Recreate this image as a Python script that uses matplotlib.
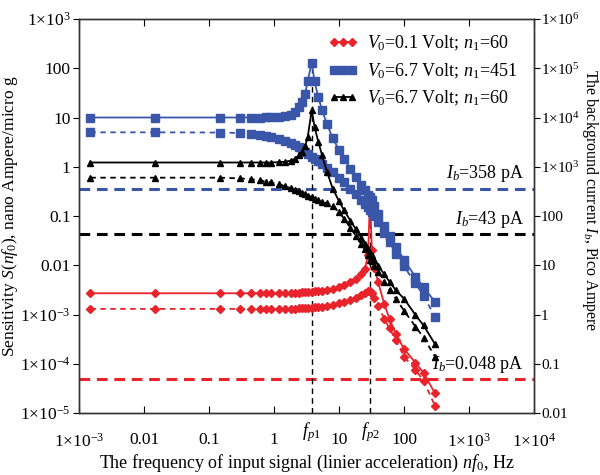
import numpy as np
import matplotlib
matplotlib.use("Agg")
import matplotlib.pyplot as plt
from matplotlib.ticker import FixedLocator, NullLocator, FixedFormatter
from matplotlib.transforms import blended_transform_factory

plt.rcParams['font.family'] = 'Liberation Serif'
plt.rcParams['mathtext.fontset'] = 'custom'
plt.rcParams['mathtext.rm'] = 'Liberation Serif'
plt.rcParams['mathtext.it'] = 'Liberation Serif:italic'

# frequency grid nf0, Hz
freq = [0.0015, 0.015, 0.15, 0.3, 0.45, 0.6, 0.75, 0.9, 1.2, 1.5,
        1.8, 2.1, 2.4, 2.7, 3.0, 3.3, 3.8, 4.2, 4.8, 5.5,
        6.5, 8, 10, 12, 15, 18, 22, 25, 28, 30,
        32, 35, 40, 50, 60, 75, 100, 150, 200, 300]

# sensitivity, nano Ampere / micro g
red_solid = [2.7e-3, 2.7e-3, 2.7e-3, 2.7e-3, 2.7e-3, 2.7e-3, 2.7e-3, 2.7e-3, 2.7e-3, 2.7e-3,
             2.72e-3, 2.75e-3, 2.78e-3, 2.8e-3, 2.82e-3, 2.85e-3, 2.9e-3, 2.95e-3, 3.0e-3, 3.05e-3,
             3.15e-3, 3.3e-3, 3.6e-3, 3.9e-3, 4.5e-3, 5.3e-3, 6.5e-3, 8.5e-3, 0.016, 0.25,
             0.02, 0.009, 0.0045, 0.0016, 8e-4, 4e-4, 2e-4, 1.05e-4, 6.5e-5, 2.5e-5]
red_dash = [1.3e-3, 1.3e-3, 1.3e-3, 1.3e-3, 1.3e-3, 1.3e-3, 1.3e-3, 1.3e-3, 1.3e-3, 1.3e-3,
            1.31e-3, 1.32e-3, 1.33e-3, 1.34e-3, 1.35e-3, 1.36e-3, 1.38e-3, 1.4e-3, 1.42e-3, 1.45e-3,
            1.5e-3, 1.58e-3, 1.7e-3, 1.8e-3, 2.0e-3, 2.2e-3, 2.5e-3, 2.75e-3, 2.95e-3, 3.0e-3,
            2.7e-3, 2.2e-3, 1.5e-3, 8e-4, 5.2e-4, 3e-4, 1.4e-4, 7.5e-5, 4.5e-5, 1.4e-5]
blue_solid = [10, 10, 10, 10, 10, 10, 10.1, 10.2, 10.4, 10.8,
              11.5, 13, 16, 21, 30, 55, 130, 55, 26, 14,
              7.5, 3.8, 2.2, 1.45, 0.9, 0.62, 0.42, 0.33, 0.27, 0.24,
              0.21, 0.16, 0.11, 0.062, 0.04, 0.024, 0.013, 0.0058, 0.0036, 0.0018]
blue_dash = [5, 5, 4.95, 4.85, 4.7, 4.5, 4.3, 4.1, 3.6, 3.3,
             3.0, 2.75, 2.5, 2.25, 2.0, 1.85, 1.6, 1.45, 1.28, 1.12,
             0.95, 0.78, 0.6, 0.48, 0.36, 0.28, 0.21, 0.175, 0.15, 0.135,
             0.12, 0.1, 0.075, 0.045, 0.03, 0.017, 0.0095, 0.0043, 0.0024, 0.0009]
black_solid = [1.22, 1.22, 1.22, 1.22, 1.22, 1.22, 1.22, 1.22, 1.24, 1.27,
               1.33, 1.45, 1.7, 2.0, 2.6, 4.0, 14, 6.5, 3.2, 1.7,
               0.8, 0.36, 0.2, 0.13, 0.08, 0.055, 0.036, 0.027, 0.021, 0.018,
               0.016, 0.013, 0.0098, 0.0065, 0.0046, 0.0031, 0.0021, 0.00098, 0.0006, 0.00025]
black_dash = [0.6, 0.6, 0.6, 0.58, 0.56, 0.53, 0.5, 0.48, 0.44, 0.4,
              0.37, 0.34, 0.32, 0.3, 0.28, 0.26, 0.24, 0.225, 0.21, 0.195,
              0.18, 0.16, 0.12, 0.088, 0.058, 0.04, 0.027, 0.021, 0.016, 0.013,
              0.012, 0.0095, 0.0072, 0.0046, 0.0032, 0.0021, 0.0012, 0.00057, 0.00034, 0.00014]

# background currents, pico Ampere (right axis)
ib_values = [358, 43, 0.048]
ib_labels = [r'$I_b$=358 pA', r'$I_b$=43 pA', r'$I_b$=0.048 pA']

fp1, fp2 = 3.8, 30
fp1_top, fp2_top = 130, 0.25

xticks = [1e-3, 1e-2, 1e-1, 1, 10, 100, 1e3, 1e4]
xtick_labels = ['1×10$^{-3}$', '0.01', '0.1', '1', '10', '100',
                '1×10$^{3}$', '1×10$^{4}$']
yticks = [1e-5, 1e-4, 1e-3, 1e-2, 1e-1, 1, 10, 100, 1e3]
ytick_labels = ['1×10$^{-5}$', '1×10$^{-4}$', '1×10$^{-3}$',
                '0.01', '0.1', '1', '10', '100', '1×10$^{3}$']
y2ticks = [1e-2, 1e-1, 1, 10, 100, 1e3, 1e4, 1e5, 1e6]
y2tick_labels = ['0.01', '0.1', '1', '10', '100', '1×10$^{3}$',
                 '1×10$^{4}$', '1×10$^{5}$', '1×10$^{6}$']

RED = '#e8232b'
BLUE = '#3a56a8'
BLACK = '#000000'

fig = plt.figure(figsize=(6, 4.75), dpi=100)
ax = fig.add_axes([0.1317, 0.1305, 0.7583, 0.8295])

# background current levels (converted pA -> nA on the left axis)
for val, col in zip(ib_values, [BLUE, BLACK, RED]):
    ax.axhline(val / 1000.0, color=col, lw=2.2, ls=(0, (3.5, 2.2)), zorder=1)

ax.plot([fp1, fp1], [1e-5, fp1_top], color='k', lw=1, ls=(0, (4, 3)), zorder=1)
ax.plot([fp2, fp2], [1e-5, fp2_top], color='k', lw=1, ls=(0, (4, 3)), zorder=1)

series = [
    (red_solid, red_dash, RED, 'D', 4.5, r'$V_0$=0.1 Volt; $n_1$=60'),
    (blue_solid, blue_dash, BLUE, 's', 5.5, r'$V_0$=6.7 Volt; $n_1$=451'),
    (black_solid, black_dash, BLACK, '^', 5, r'$V_0$=6.7 Volt; $n_1$=60'),
]
for solid, dash, col, mk, ms, lab in series:
    ax.plot(freq, solid, color=col, marker=mk, ms=ms, lw=1.3, mec=col, label=lab, zorder=3)
    ax.plot(freq, dash, color=col, marker=mk, ms=ms, lw=1.3, mec=col,
            ls=(0, (3, 2.5)), zorder=3)

ax.set_xscale('log')
ax.set_yscale('log')
ax.set_xlim(1e-3, 1e4)
ax.set_ylim(1e-5, 1e3)
ax.xaxis.set_major_locator(FixedLocator(xticks))
ax.xaxis.set_major_formatter(FixedFormatter(xtick_labels))
ax.xaxis.set_minor_locator(NullLocator())
ax.yaxis.set_major_locator(FixedLocator(yticks))
ax.yaxis.set_major_formatter(FixedFormatter(ytick_labels))
ax.yaxis.set_minor_locator(NullLocator())
ax.tick_params(axis='x', direction='in', top=True, length=5, pad=14, labelsize=12.5)
ax.tick_params(axis='y', direction='out', length=4, pad=2, labelsize=12.5)

ax2 = ax.twinx()
ax2.set_yscale('log')
ax2.set_ylim(1e-2, 1e6)
ax2.yaxis.set_major_locator(FixedLocator(y2ticks))
ax2.yaxis.set_major_formatter(FixedFormatter(y2tick_labels))
ax2.yaxis.set_minor_locator(NullLocator())
ax2.tick_params(axis='y', direction='out', length=4, pad=1, labelsize=11)

for a in (ax, ax2):
    for sp in a.spines.values():
        sp.set_linewidth(1.0)
        sp.set_color('#333333')

trans = blended_transform_factory(ax.transData, ax.transAxes)
ax.text(fp1, -0.018, r'$f_{p1}$', transform=trans, ha='center', va='top', fontsize=13)
ax.text(fp2, -0.018, r'$f_{p2}$', transform=trans, ha='center', va='top', fontsize=13)

for val, lab in zip(ib_values, ib_labels):
    ax.text(7.0e3, val / 1000.0 * 2.0, lab, ha='right', va='center', fontsize=13)

ax.set_xlabel(r'The frequency of input signal (linier acceleration) $nf_0$, Hz',
              fontsize=13, labelpad=2)
ax.set_ylabel(r'Sensitivity $S(nf_0)$, nano Ampere/micro g', fontsize=12.5)
ax.yaxis.set_label_coords(-0.13, 0.5)
ax2.set_ylabel(r'The background current $I_b$, Pico Ampere', fontsize=11.5,
               rotation=270, va='center')
ax2.yaxis.set_label_coords(1.123, 0.54)

ax.legend(loc='upper right', bbox_to_anchor=(0.99, 0.995), frameon=False,
          fontsize=13, numpoints=3, handlelength=1.6, handletextpad=0.5,
          labelspacing=0.45, borderaxespad=0.3)

fig.savefig('out.png', dpi=100)
